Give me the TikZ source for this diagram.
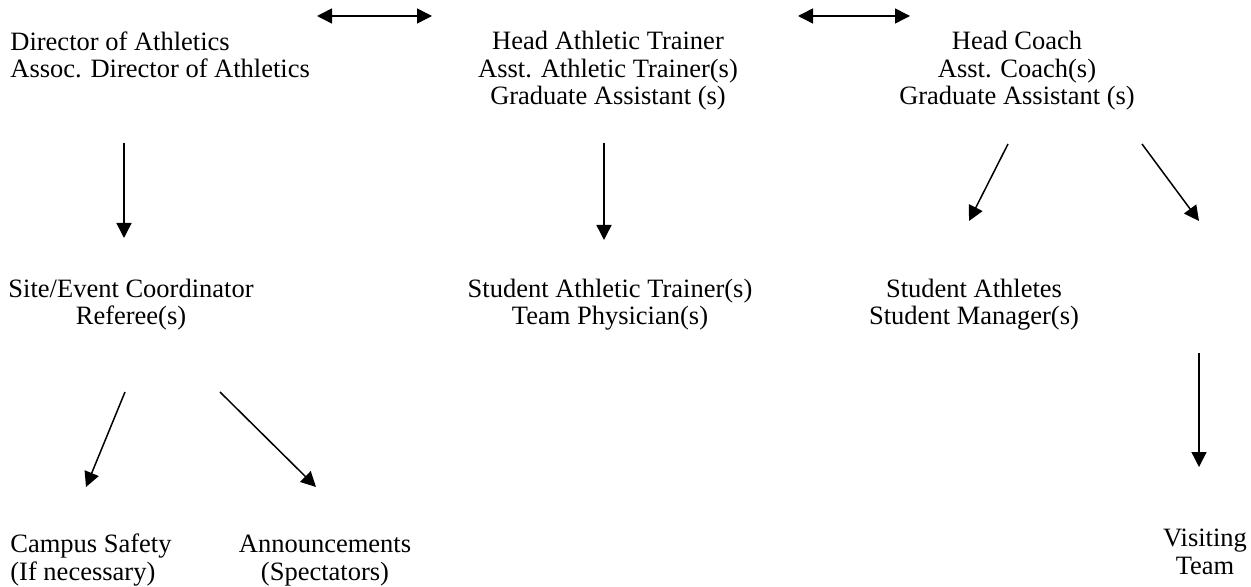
\documentclass[tikz,border=0pt]{standalone}
\usepackage{fontspec}
\setmainfont{Liberation Serif}
\usetikzlibrary{arrows.meta}

\begin{document}
\begin{tikzpicture}[
  x=0.5pt, y=-0.5pt,
  >={Triangle[length=7.5pt,width=7.5pt]},
  role/.style={inner sep=0pt, font=\fontsize{13.25pt}{13.75pt}\selectfont},
  lrole/.style={role, align=left, anchor=base west},
  crole/.style={role, align=center, anchor=base},
  arr/.style={->, line width=0.75pt}
]
  \useasboundingbox (0,0) rectangle (1251,587);
  % top row (placed by the baseline of the last line)
  \node[lrole] (dir) at (10,78) {Director of Athletics\\Assoc. Director of Athletics};
  \node[crole] (trn) at (608,105) {Head Athletic Trainer\\Asst. Athletic Trainer(s)\\Graduate Assistant (s)};
  \node[crole] (coach) at (1017,105) {Head Coach\\Asst. Coach(s)\\Graduate Assistant (s)};
  % middle row
  \node[crole] (site) at (131,325) {Site/Event Coordinator\\Referee(s)};
  \node[crole] (sat) at (610,325) {Student Athletic Trainer(s)\\Team Physician(s)};
  \node[crole] (ath) at (974,325) {Student Athletes\\Student Manager(s)};
  % bottom row
  \node[lrole] (camp) at (10,580) {Campus Safety\\(If necessary)};
  \node[crole] (ann) at (325,580) {Announcements\\(Spectators)};
  \node[crole] (vis) at (1205,574) {Visiting\\Team};
  % arrow ends
  \coordinate (dir-trn-l) at (317,16);
  \coordinate (dir-trn-r) at (432,16);
  \coordinate (trn-coach-l) at (798,16);
  \coordinate (trn-coach-r) at (910,16);
  \coordinate (dir-out) at (124,143);
  \coordinate (site-in) at (124,238);
  \coordinate (trn-out) at (604,143);
  \coordinate (sat-in) at (604,240);
  \coordinate (coach-out-l) at (1008,144);
  \coordinate (ath-in) at (969,221);
  \coordinate (coach-out-r) at (1142,144);
  \coordinate (vis-mid) at (1199,221);
  \coordinate (vis-out) at (1199,353);
  \coordinate (vis-in) at (1199,467);
  \coordinate (site-out-l) at (125,392);
  \coordinate (camp-in) at (86,487);
  \coordinate (site-out-r) at (220,392);
  \coordinate (ann-in) at (316,487);
  % connectors
  \draw[<->, line width=0.75pt] (dir-trn-l) -- (dir-trn-r);
  \draw[<->, line width=0.75pt] (trn-coach-l) -- (trn-coach-r);
  \foreach \a/\b in {dir-out/site-in, trn-out/sat-in, coach-out-l/ath-in, coach-out-r/vis-mid,
    vis-out/vis-in, site-out-l/camp-in, site-out-r/ann-in}
    \draw[arr] (\a) -- (\b);
\end{tikzpicture}
\end{document}
